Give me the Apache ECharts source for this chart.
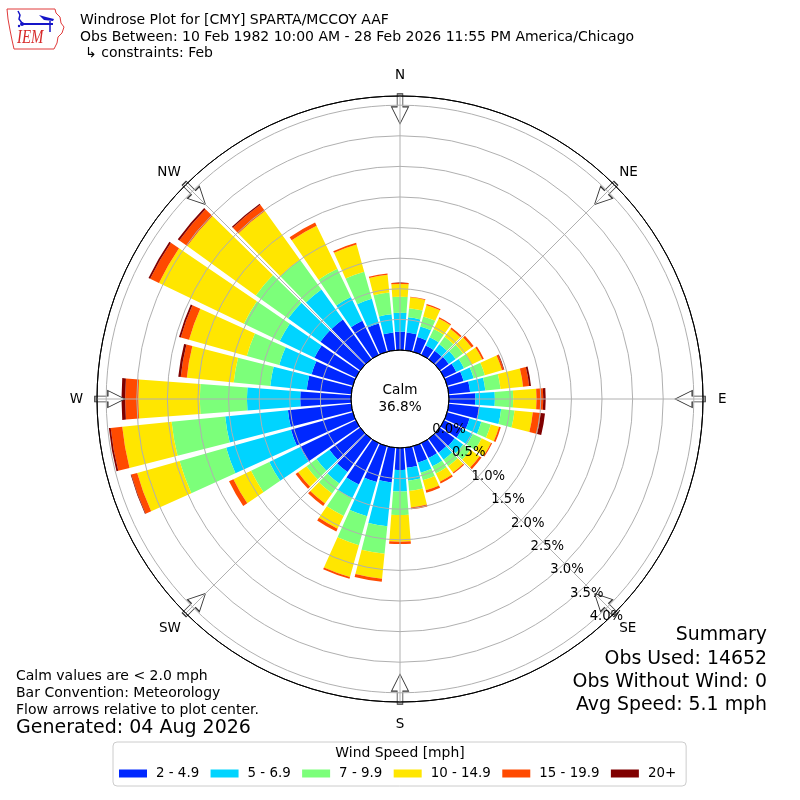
<!DOCTYPE html>
<html>
<head>
<meta charset="utf-8">
<script src="https://cdn.jsdelivr.net/npm/echarts@6/dist/echarts.min.js"></script>
<style>
html,body{margin:0;padding:0;background:#fff;}
#chart{width:800px;height:800px;}
</style>
</head>
<body>
<div id="chart"></div>
<script>
// ---------------- DATA ----------------
const directions = [0,10,20,30,40,50,60,70,80,90,100,110,120,130,140,150,160,170,180,190,200,210,220,230,240,250,260,270,280,290,300,310,320,330,340,350];
const compassLabels = ['N','NE','E','SE','S','SW','W','NW'];
const arrowDirs = [0,45,90,135,180,225,270,315];
const speedBins = ['2 - 4.9','5 - 6.9','7 - 9.9','10 - 14.9','15 - 19.9','20+'];

// percent of observations per direction and speed bin
const pct_2_4_9   = [0.30,0.29,0.25,0.17,0.17,0.18,0.22,0.28,0.35,0.43,0.50,0.38,0.32,0.30,0.28,0.27,0.28,0.33,0.36,0.57,0.61,0.75,0.67,0.62,1.01,1.05,1.04,0.83,0.73,0.70,0.75,0.80,0.80,0.62,0.48,0.29];
const pct_5_6_9   = [0.31,0.25,0.18,0.15,0.13,0.14,0.14,0.17,0.25,0.32,0.36,0.20,0.20,0.17,0.14,0.15,0.17,0.21,0.35,0.72,0.58,0.25,0.23,0.26,0.56,1.10,1.03,0.87,0.60,0.55,0.63,0.65,0.60,0.43,0.42,0.30];
const pct_7_9_9   = [0.26,0.15,0.17,0.15,0.15,0.15,0.14,0.19,0.25,0.30,0.22,0.16,0.16,0.15,0.13,0.13,0.13,0.17,0.385,0.45,0.49,0.32,0.20,0.20,0.33,0.79,0.88,0.77,0.60,0.55,0.65,0.65,0.60,0.51,0.46,0.36];
const pct_10_14_9 = [0.21,0.18,0.19,0.19,0.16,0.17,0.19,0.29,0.37,0.38,0.30,0.14,0.17,0.18,0.13,0.15,0.17,0.27,0.435,0.41,0.54,0.23,0.20,0.17,0.32,0.72,0.81,1.005,0.77,0.98,1.54,1.38,0.98,0.78,0.46,0.29];
const pct_15_19_9 = [0.02,0.01,0.02,0.02,0.03,0.04,0.03,0.03,0.10,0.11,0.13,0.03,0.02,0.04,0.02,0.03,0.04,0.03,0.04,0.05,0.03,0.05,0.05,0.05,0.08,0.10,0.19,0.215,0.10,0.14,0.16,0.16,0.13,0.06,0.03,0.02];
const pct_20_plus = [0,0,0,0,0,0,0,0.01,0.03,0.04,0.07,0,0,0,0,0,0,0,0,0,0,0,0,0,0,0.01,0.03,0.06,0.04,0.03,0.03,0.03,0.02,0,0,0];

const radiusTickLabels = ['0.0%','0.5%','1.0%','1.5%','2.0%','2.5%','3.0%','3.5%','4.0%'];
const calmText = ['Calm','36.8%'];
const titleLines = ['Windrose Plot for [CMY] SPARTA/MCCOY AAF','Obs Between: 10 Feb 1982 10:00 AM - 28 Feb 2026 11:55 PM America/Chicago','\u21b3 constraints: Feb'];
const noteLines = ['Calm values are < 2.0 mph','Bar Convention: Meteorology','Flow arrows relative to plot center.'];
const generatedText = 'Generated: 04 Aug 2026';
const summaryLines = ['Summary','Obs Used: 14652','Obs Without Wind: 0','Avg Speed: 5.1 mph'];
const legendTitle = 'Wind Speed [mph]';

// ---------------- STYLE ----------------
const FONT = '"DejaVu Sans", sans-serif';
const binColors = ['#0028ff','#00d4ff','#7cff7a','#ffe600','#ff4a00','#800000'];
const CX = 400, CY = 399, R0 = 49, R1 = 303;
const R_MAX = 4.15;
const ARROW_R = 3.94;
const ARROW = 'path://M6,0 L12,0 L12,13 L18,13 L9,30 L0,13 L6,13 Z';
// extra offset of the compass labels (rich text styles)
const compassRich = {
  n: { padding: [0, 0, 7, 0], fontSize: 13.5, color: '#000', fontFamily: FONT },
  e: { padding: [0, 0, 0, 8], fontSize: 13.5, color: '#000', fontFamily: FONT },
  s: { padding: [8, 0, 0, 0], fontSize: 13.5, color: '#000', fontFamily: FONT },
  w: { padding: [0, 7, 0, 0], fontSize: 13.5, color: '#000', fontFamily: FONT },
  d: { padding: [0, 0, 0, 0], fontSize: 13.5, color: '#000', fontFamily: FONT },
  sw: { padding: [3, 0, 0, 0], fontSize: 13.5, color: '#000', fontFamily: FONT },
  se: { padding: [3, 0, 0, 0], fontSize: 13.5, color: '#000', fontFamily: FONT }
};
const compassStyleKey = ['n','d','e','se','s','sw','w','d'];

const binData = [pct_2_4_9, pct_5_6_9, pct_7_9_9, pct_10_14_9, pct_15_19_9, pct_20_plus];

const series = speedBins.map((name, k) => ({
  name: name,
  type: 'bar',
  coordinateSystem: 'polar',
  polarIndex: 0,
  stack: 'wind',
  barWidth: '86%',
  silent: true,
  itemStyle: { color: binColors[k] },
  data: directions.map((d, i) => [binData[k][i], d]),
  z: 2
}));

series.push({
  type: 'scatter',
  coordinateSystem: 'polar',
  polarIndex: 0,
  symbol: ARROW,
  symbolSize: [17, 30],
  symbolRotate: function (v) { return -v[1]; },
  silent: true,
  itemStyle: { color: '#ffffff', borderColor: '#333333', borderWidth: 1, opacity: 1 },
  data: arrowDirs.map(d => [ARROW_R, d]),
  z: 3
});

const gridColors = ['#000000','#b0b0b0','#b0b0b0','#b0b0b0','#b0b0b0','#b0b0b0','#b0b0b0','#b0b0b0','#b0b0b0','#000000'];

const graphics = [];
titleLines.forEach((t, i) => {
  graphics.push({ type: 'text', x: i < 2 ? 80 : 85, y: 20.7 + 16.3 * i, z: 100,
    style: { text: t, font: '14px ' + FONT, fill: '#000', verticalAlign: 'middle', align: 'left' } });
});
noteLines.forEach((t, i) => {
  graphics.push({ type: 'text', x: 16, y: 676 + 17 * i, z: 100,
    style: { text: t, font: '14px ' + FONT, fill: '#000', verticalAlign: 'middle', align: 'left' } });
});
graphics.push({ type: 'text', x: 16, y: 728.5, z: 100,
  style: { text: generatedText, font: '19px ' + FONT, fill: '#000', verticalAlign: 'middle', align: 'left' } });
summaryLines.forEach((t, i) => {
  graphics.push({ type: 'text', x: 767, y: 635.5 + 23.2 * i, z: 100,
    style: { text: t, font: '18.9px ' + FONT, fill: '#000', verticalAlign: 'middle', align: 'right' } });
});
graphics.push({ type: 'text', x: CX, y: CY, z: 100,
  style: { text: calmText.join('\n'), font: '13.6px ' + FONT, lineHeight: 17, fill: '#000', verticalAlign: 'middle', align: 'center' } });
graphics.push({ type: 'text', x: 400, y: 753, z: 100,
  style: { text: legendTitle, font: '13.9px ' + FONT, fill: '#000', verticalAlign: 'middle', align: 'center' } });
// IEM logo
graphics.push({ type: 'group', x: 0, y: 0, z: 100, children: [
  { type: 'polyline', shape: { points: [[7,9],[55,9],[56,13],[60,17],[61,23],[64,27],[62,33],[58,37],[57,43],[54,49],[14,49],[12,40],[10,30],[8,19],[7,9]] },
    style: { stroke: '#e03a3a', lineWidth: 1, fill: 'none' } },
  { type: 'line', shape: { x1: 23, y1: 24, x2: 53, y2: 24 }, style: { stroke: '#1515c8', lineWidth: 2 } },
  { type: 'polyline', shape: { points: [[18,11],[20,15],[19,19],[22,23]] }, style: { stroke: '#1515c8', lineWidth: 1.5, fill: 'none' } },
  { type: 'polygon', shape: { points: [[39,15],[46,17],[54,19],[53,21],[44,20]] }, style: { fill: '#1515c8' } },
  { type: 'circle', shape: { cx: 22, cy: 24, r: 2 }, style: { fill: '#1515c8' } },
  { type: 'circle', shape: { cx: 19, cy: 26, r: 1.2 }, style: { fill: '#1515c8' } },
  { type: 'line', shape: { x1: 50, y1: 21, x2: 50, y2: 32 }, style: { stroke: '#1515c8', lineWidth: 1.5 } },
  { type: 'text', x: 17, y: 38, scaleX: 0.78, style: { text: 'IEM', font: 'italic 19px "Liberation Serif", serif', fill: '#d62828', verticalAlign: 'middle', align: 'left' } }
]});

const option = {
  animation: false,
  backgroundColor: '#ffffff',
  textStyle: { fontFamily: FONT },
  polar: [
    { center: [CX, CY], radius: [R0, R1] },
    { center: [CX, CY], radius: [R0, R1] }
  ],
  angleAxis: [
    { polarIndex: 0, type: 'value', min: 0, max: 360, interval: 45, startAngle: 90, clockwise: true, z: 5,
      axisLine: { show: true, lineStyle: { color: '#000', width: 1 } },
      axisTick: { show: false },
      axisLabel: { show: true, margin: 7, fontSize: 13.5, color: '#000', fontFamily: FONT, rich: compassRich,
        formatter: function (v) {
          if (v >= 360) return '';
          const k = Math.round(v / 45);
          return '{' + compassStyleKey[k] + '|' + compassLabels[k] + '}';
        } },
      splitLine: { show: true, lineStyle: { color: '#b0b0b0', width: 1 } } },
    { polarIndex: 1, type: 'value', min: 0, max: 360, startAngle: -50, clockwise: true, show: false }
  ],
  radiusAxis: [
    { polarIndex: 0, type: 'value', min: 0, max: R_MAX, interval: 0.5, z: 5,
      axisLine: { show: false }, axisTick: { show: false }, axisLabel: { show: false },
      splitLine: { show: true, lineStyle: { color: gridColors, width: 1 } } },
    { polarIndex: 1, type: 'value', min: 0, max: R_MAX, interval: 0.5, z: 10,
      axisLine: { show: false }, axisTick: { show: false }, splitLine: { show: false },
      axisLabel: { show: true, margin: 1, fontSize: 13.2, color: '#000', fontFamily: FONT, align: 'left', verticalAlign: 'bottom',
        formatter: function (v) { const k = Math.round(v / 0.5); return Math.abs(k * 0.5 - v) < 1e-6 ? (radiusTickLabels[k] || '') : ''; } } }
  ],
  legend: {
    data: speedBins, left: 113, top: 742, orient: 'horizontal',
    itemWidth: 28, itemHeight: 8, itemGap: 11.4, icon: 'rect',
    padding: [25, 10, 6, 6], borderColor: '#cccccc', borderWidth: 1, borderRadius: 4, backgroundColor: '#ffffff',
    selectedMode: false,
    textStyle: { fontFamily: FONT, fontSize: 13.4, color: '#000', padding: [0, 0, 0, 4] }
  },
  graphic: graphics,
  series: series
};

const chart = echarts.init(document.getElementById('chart'), null, { renderer: 'canvas' });
chart.setOption(option);
</script>
</body>
</html>
